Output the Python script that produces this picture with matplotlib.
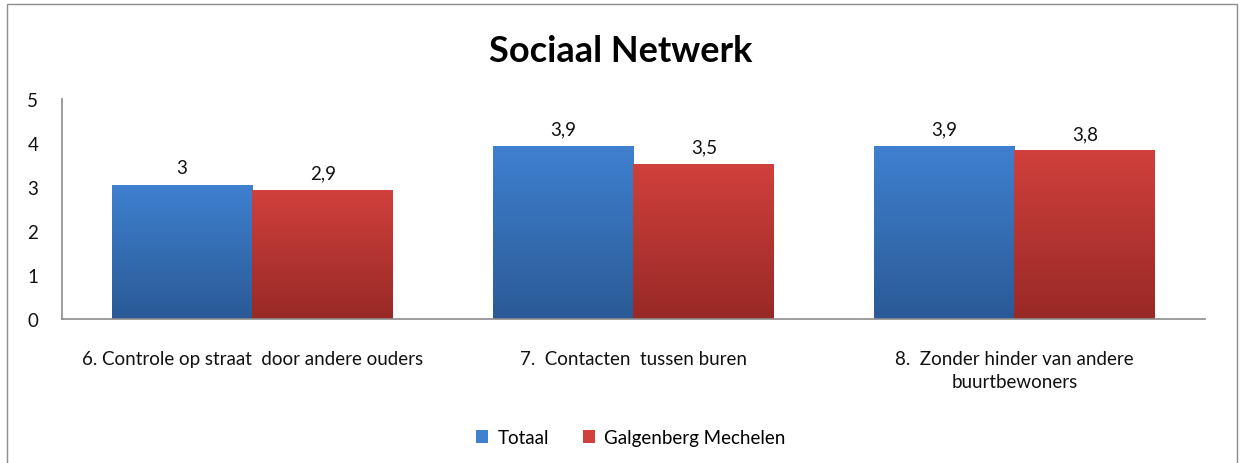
import numpy as np
import matplotlib.pyplot as plt
from matplotlib.colors import LinearSegmentedColormap
from matplotlib.patches import Patch, Rectangle

plt.rcParams['font.family'] = ['Lato', 'DejaVu Sans']

# data
categories = ['6. Controle op straat  door andere ouders',
              '7.  Contacten  tussen buren',
              '8.  Zonder hinder van andere\nbuurtbewoners']
totaal = [3.04, 3.93, 3.93]
galgenberg = [2.93, 3.52, 3.82]
series_names = ['Totaal', 'Galgenberg Mechelen']

blue_top, blue_bot = '#3F80CF', '#2A5A96'
red_top, red_bot = '#D0403C', '#982926'

fig = plt.figure(figsize=(12.42, 4.64), dpi=100)
ax = fig.add_axes([0.0499, 0.3103, 0.9203, 0.4742])

x = np.arange(len(categories))
w = 0.37


def fmt(v):
    s = f"{round(v, 1):.1f}"
    if s.endswith('.0'):
        s = s[:-2]
    return s.replace('.', ',')


def gradient_bars(bars, top, bot):
    cmap = LinearSegmentedColormap.from_list('g', [bot, top])
    grad = np.linspace(0, 1, 256).reshape(-1, 1)
    for b in bars:
        x0, w0, h0 = b.get_x(), b.get_width(), b.get_height()
        ax.imshow(grad, extent=[x0, x0 + w0, 0, h0], origin='lower',
                  cmap=cmap, aspect='auto', zorder=2)
        b.set_visible(False)


b1 = ax.bar(x - w / 2, totaal, w, color=blue_top)
b2 = ax.bar(x + w / 2, galgenberg, w, color=red_top)
gradient_bars(b1, blue_top, blue_bot)
gradient_bars(b2, red_top, red_bot)

for bars, vals in [(b1, totaal), (b2, galgenberg)]:
    for b, v in zip(bars, vals):
        ax.text(b.get_x() + b.get_width() / 2, v + 0.2, fmt(v),
                ha='center', va='bottom', fontsize=13.5, color='#111111')

ax.set_xlim(-0.5, len(categories) - 0.5)
ax.set_ylim(0, 5)
ax.set_yticks(range(6))
ax.set_xticks(x)
ax.set_xticklabels(categories, fontsize=13.5, linespacing=1.45)
ax.tick_params(axis='both', length=0, labelsize=13.5, colors='#111111')
ax.tick_params(axis='x', pad=22)
ax.tick_params(axis='y', pad=17)
for s in ['top', 'right']:
    ax.spines[s].set_visible(False)
for s in ['left', 'bottom']:
    ax.spines[s].set_color('#8C8C8C')
    ax.spines[s].set_linewidth(1.2)

fig.text(0.5, 0.89, 'Sociaal Netwerk', ha='center', va='center',
         fontsize=26, fontweight='bold')

handles = [Patch(facecolor=blue_top, edgecolor='none'),
           Patch(facecolor=red_top, edgecolor='none')]
fig.legend(handles, series_names, loc='center', bbox_to_anchor=(0.508, 0.055),
           ncol=2, frameon=False, fontsize=13.5, handlelength=0.65,
           handleheight=0.65, handletextpad=0.5, columnspacing=1.8)

fig.patches.append(Rectangle((0.006, -0.01), 0.99, 1.0, transform=fig.transFigure,
                             fill=False, edgecolor='#8C8C8C', linewidth=1))

fig.savefig('out.png', dpi=100)
